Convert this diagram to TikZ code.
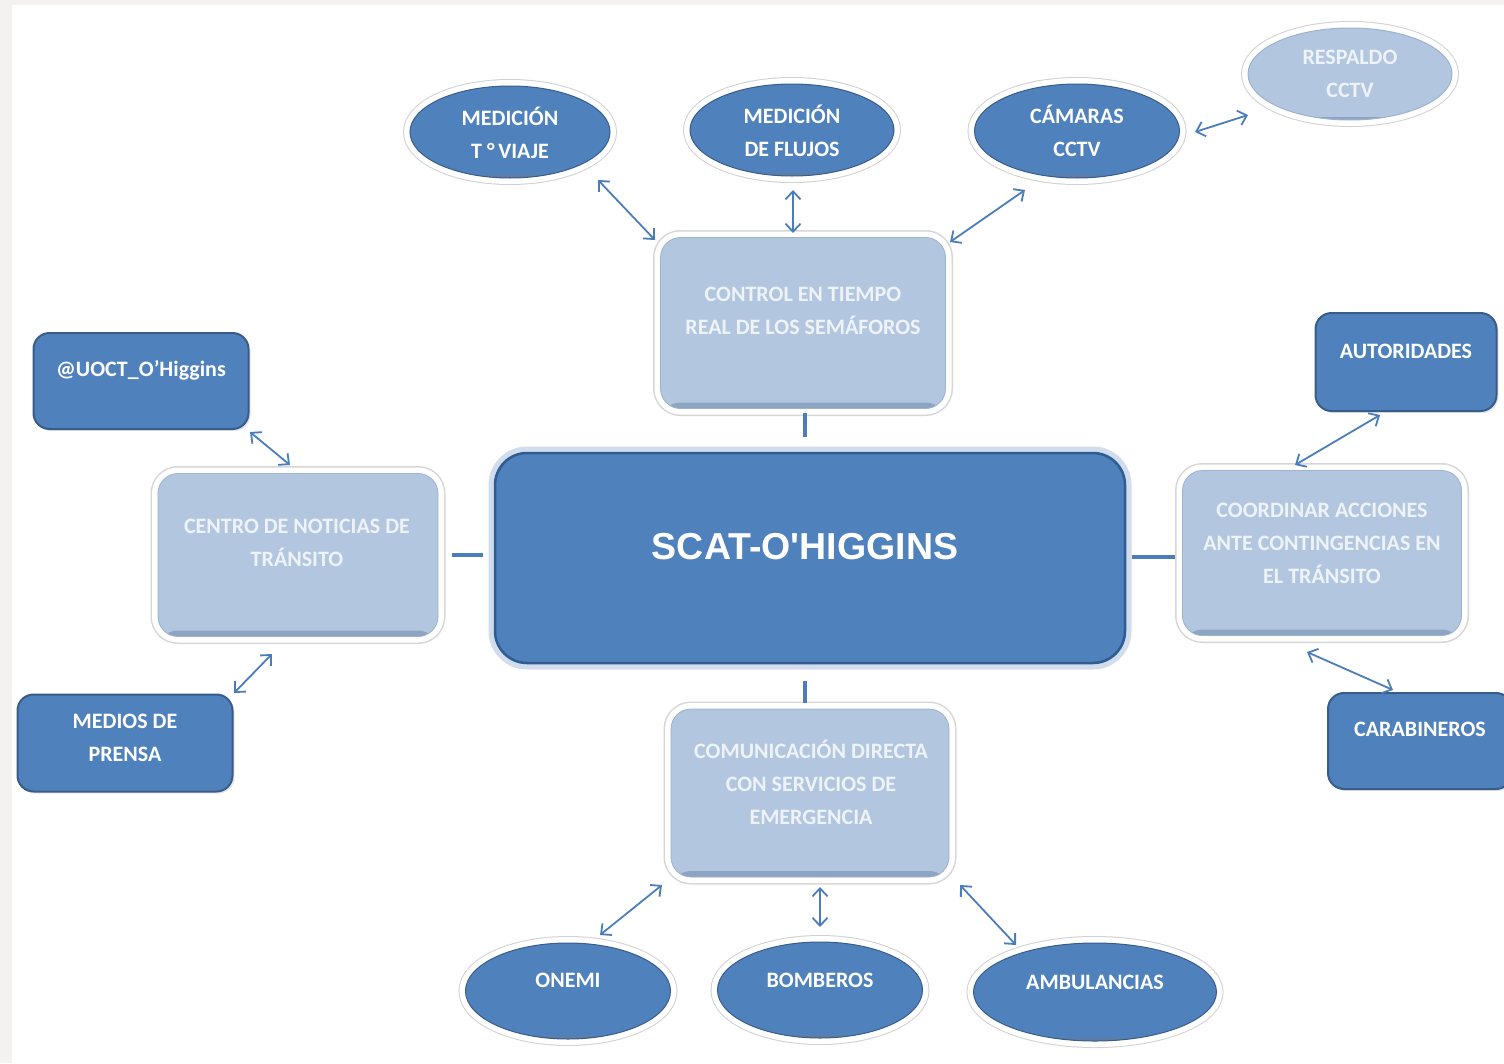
\documentclass[tikz,border=0pt]{standalone}
\usepackage{fontspec}
\setmainfont{Carlito}[BoldFont={Carlito Bold}]
\newfontfamily\arialbold{Liberation Sans Bold}
\usetikzlibrary{arrows.meta,shapes.geometric,calc,shadows}
\definecolor{dkfill}{HTML}{4F81BD}
\definecolor{dkedge}{HTML}{385D8A}
\definecolor{cedge}{HTML}{2F5C92}
\definecolor{ltfill}{HTML}{B3C6DF}
\definecolor{ltedge}{HTML}{9DB2CE}
\definecolor{ltbevel}{HTML}{8DA4C2}
\definecolor{lttext}{HTML}{EEF3F9}
\definecolor{arrowc}{HTML}{4A7EBB}
\definecolor{bggray}{HTML}{F3F2F0}
\begin{document}
\begin{tikzpicture}[x=1pt,y=-1pt,
  lbox/.style={rectangle, rounded corners=20pt, fill=ltfill, draw=ltedge, line width=0.8pt,
    inner sep=0pt,
    preaction={draw=black!16, line width=15pt},
    preaction={draw=white, line width=12pt},
    path picture={\fill[ltbevel] ([yshift=6pt]path picture bounding box.south west) rectangle (path picture bounding box.south east);}},
  dbox/.style={rectangle, rounded corners=16pt, fill=dkfill, draw=dkedge, line width=2pt,
    inner sep=0pt, drop shadow={opacity=0.2, shadow xshift=2pt, shadow yshift=-2pt}},
  cbox/.style={rectangle, rounded corners=32pt, fill=dkfill, draw=cedge, line width=2.5pt,
    inner sep=0pt, preaction={draw=ltfill!60, line width=13pt}},
  dell/.style={ellipse, fill=dkfill, draw=dkedge, line width=1pt, inner sep=0pt,
    preaction={draw=black!18, line width=14pt},
    preaction={draw=white, line width=12pt},
    path picture={\fill[dkedge!80] ([yshift=3pt]path picture bounding box.south west) rectangle (path picture bounding box.south east);}},
  lell/.style={ellipse, fill=ltfill, draw=ltedge, line width=1pt, inner sep=0pt,
    preaction={draw=black!18, line width=14pt},
    preaction={draw=white, line width=12pt},
    path picture={\fill[ltbevel] ([yshift=3pt]path picture bounding box.south west) rectangle (path picture bounding box.south east);}},
  txtd/.style={text=white, font=\bfseries\fontsize{22}{33}\selectfont, align=center, inner sep=0pt},
  txtl/.style={text=lttext, font=\bfseries\fontsize{22}{33}\selectfont, align=center, inner sep=0pt},
  txtc/.style={text=white, font=\arialbold\fontsize{37.5}{42}\selectfont, align=center, inner sep=0pt},
  link/.style={draw=arrowc, line width=4pt},
  biarrow/.style={draw=arrowc, line width=1.8pt,
    {Straight Barb[length=8pt,width=15pt]}-{Straight Barb[length=8pt,width=15pt]}}
]
\fill[bggray] (0,0) rectangle (1504,1063);
\fill[white] (12,5) rectangle (1504,1063);
\useasboundingbox (0,0) rectangle (1504,1063);

% top ellipses
\node[dell, minimum width=200pt, minimum height=92pt] (viaje) at (510,132) {};
\node[dell, minimum width=204pt, minimum height=92pt] (flujos) at (792,130) {};
\node[dell, minimum width=205pt, minimum height=94pt] (camaras) at (1077,131) {};
\node[lell, minimum width=204pt, minimum height=92pt] (respaldo) at (1350,74) {};

% light boxes
\node[lbox, minimum width=285pt, minimum height=171pt] (control) at (803,323) {};
\node[lbox, minimum width=280pt, minimum height=163pt] (centro) at (298,555) {};
\node[lbox, minimum width=279pt, minimum height=165pt] (coord) at (1322,553) {};
\node[lbox, minimum width=278pt, minimum height=168pt] (comun) at (810,793) {};

% central box
\node[cbox, minimum width=630pt, minimum height=210pt] (scat) at (810,558) {};

% dark boxes
\node[dbox, minimum width=215pt, minimum height=96pt] (uoct) at (141,381) {};
\node[dbox, minimum width=215pt, minimum height=97pt] (medios) at (125,743) {};
\node[dbox, minimum width=181pt, minimum height=98pt] (autor) at (1406,362) {};
\node[dbox, minimum width=184pt, minimum height=96pt] (carab) at (1420,741) {};

% bottom ellipses
\node[dell, minimum width=205pt, minimum height=96pt] (onemi) at (568,991) {};
\node[dell, minimum width=205pt, minimum height=96pt] (bomberos) at (820,990) {};
\node[dell, minimum width=243pt, minimum height=98pt] (ambul) at (1095,992) {};

% texts
\node[txtd] (viajeT) at (510,133) {MEDICIÓN\\T °\,VIAJE};
\node[txtd] (flujosT) at (792,131) {MEDICIÓN\\DE FLUJOS};
\node[txtd] (camarasT) at (1077,131) {CÁMARAS\\CCTV};
\node[txtl] (respaldoT) at (1350,74) {RESPALDO\\CCTV};
\node[txtl] (controlT) at (803,311) {CONTROL EN TIEMPO\\REAL DE LOS SEMÁFOROS};
\node[txtl] (centroT) at (297,543) {CENTRO DE NOTICIAS DE\\TRÁNSITO};
\node[txtl] (coordT) at (1322,543) {COORDINAR ACCIONES\\ANTE CONTINGENCIAS EN\\EL TRÁNSITO};
\node[txtl] (comunT) at (811,782) {COMUNICACIÓN DIRECTA\\CON SERVICIOS DE\\EMERGENCIA};
\node[txtc] (scatT) at (805,547) {SCAT-O'HIGGINS};
\node[txtd] (uoctT) at (141,370) {@UOCT\_O’Higgins};
\node[txtd] (autorT) at (1406,351) {AUTORIDADES};
\node[txtd] (mediosT) at (125,738) {MEDIOS DE\\PRENSA};
\node[txtd] (carabT) at (1420,729) {CARABINEROS};
\node[txtd] (onemiT) at (568,980) {ONEMI};
\node[txtd] (bomberosT) at (820,980) {BOMBEROS};
\node[txtd] (ambulT) at (1095,982) {AMBULANCIAS};

% plain links
\draw[link] ($(scat.center)+(-5,-121)$) -- ($(control.center)+(2,90)$);
\draw[link] ($(scat.center)+(-5,123)$) -- ($(comun.center)+(-5,-90)$);
\draw[link] ($(scat.center)+(-327,-3)$) -- ($(centro.center)+(154,0)$);
\draw[link] ($(scat.center)+(322,-1)$) -- ($(coord.center)+(-147,4)$);

% double arrows
\draw[biarrow] ($(viaje.center)+(88,48)$) -- ($(control.center)+(-148,-83)$);
\draw[biarrow] ($(flujos.center)+(1,60)$) -- ($(control.center)+(-10,-90)$);
\draw[biarrow] ($(camaras.center)+(-52,59)$) -- ($(control.center)+(147,-81)$);
\draw[biarrow] ($(camaras.center)+(118,1)$) -- ($(respaldo.center)+(-102,41)$);
\draw[biarrow] ($(uoct.center)+(109,51)$) -- ($(centro.center)+(-8,-90)$);
\draw[biarrow] ($(centro.center)+(-26,99)$) -- ($(medios.center)+(109,-50)$);
\draw[biarrow] ($(autor.center)+(-26,53)$) -- ($(coord.center)+(-27,-88)$);
\draw[biarrow] ($(coord.center)+(-15,99)$) -- ($(carab.center)+(-27,-51)$);
\draw[biarrow] ($(comun.center)+(-148,92)$) -- ($(onemi.center)+(32,-56)$);
\draw[biarrow] ($(comun.center)+(10,94)$) -- ($(bomberos.center)+(0,-63)$);
\draw[biarrow] ($(comun.center)+(150,92)$) -- ($(ambul.center)+(-79,-47)$);
\end{tikzpicture}
\end{document}
